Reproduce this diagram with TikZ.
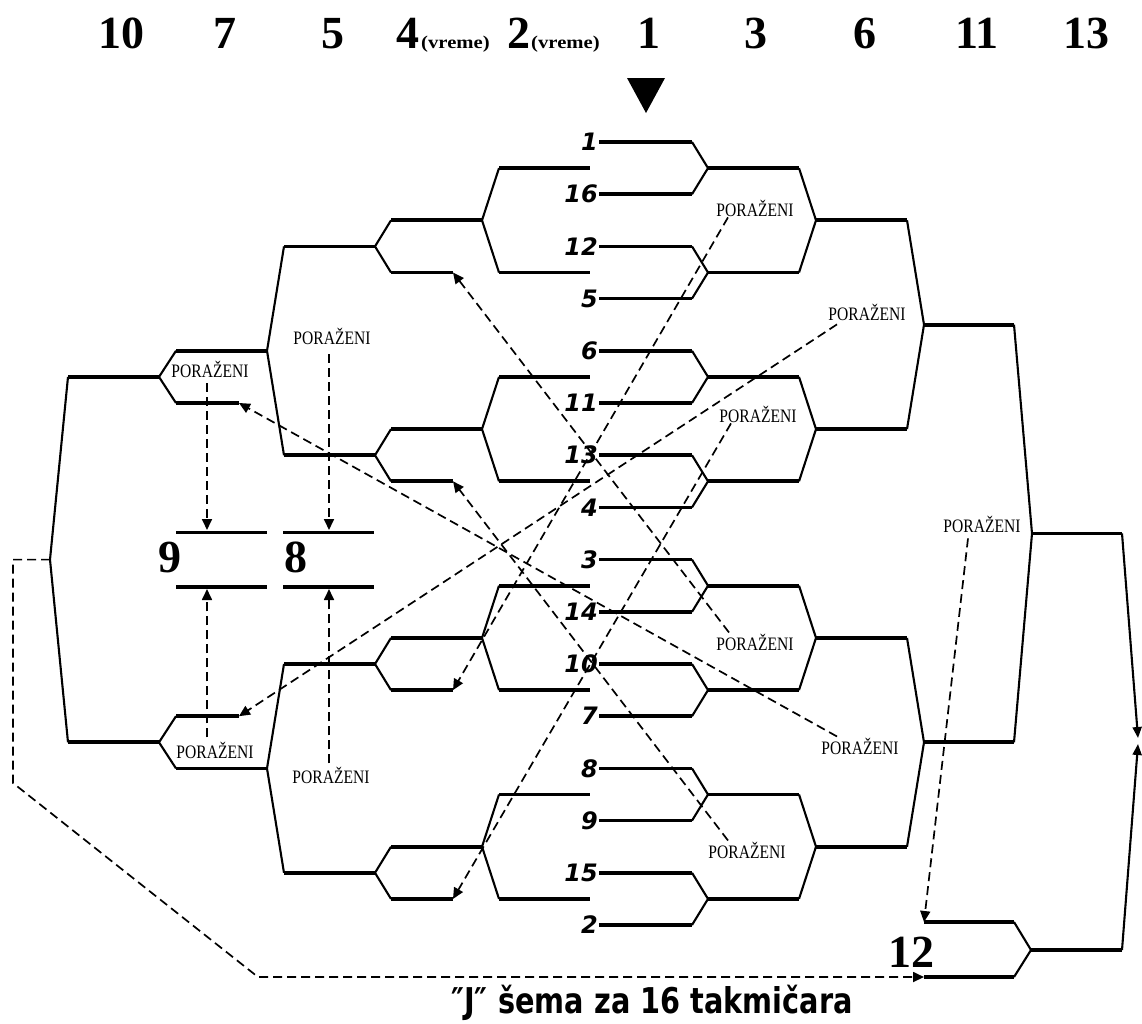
\documentclass[tikz,border=0pt]{standalone}
\usepackage{fontspec}
\setmainfont{Liberation Serif}
\newfontfamily\seedfont{DejaVu Sans}
\newfontfamily\lostfont[FakeStretch=0.82]{Liberation Serif}
\newfontfamily\vremefont[FakeStretch=1.15]{Liberation Serif}
\newfontfamily\titlefont[FakeStretch=0.81]{DejaVu Sans}
\usetikzlibrary{arrows.meta}
\tikzset{win/.style={line width=3.7pt},
 fork/.style={line width=2.1pt},
 lost/.style={line width=1.7pt, dash pattern=on 9pt off 5pt,
   -{Triangle[length=11pt,width=10pt]}},
 seed/.style={anchor=east, inner sep=1pt,
   font=\seedfont\bfseries\itshape\fontsize{24}{24}\selectfont},
 place/.style={anchor=base, inner sep=0pt,
   font=\bfseries\fontsize{46}{46}\selectfont},
 vreme/.style={anchor=base west, inner sep=0pt,
   font=\vremefont\bfseries\fontsize{18}{18}\selectfont},
 loser/.style={anchor=base, inner sep=1pt,
   font=\lostfont\fontsize{19}{19}\selectfont},
 }

\begin{document}
\begin{tikzpicture}[x=1pt,y=-1pt]
    \useasboundingbox (0,0) rectangle (1142,1023);
    % order of the rounds
    \node[place] (h10) at (121,48) {10};
    \node[place] (h7) at (225,48) {7};
    \node[place] (h5) at (333,48) {5};
    \node[place] (h4) at (408,48) {4};
    \node[vreme] (v4) at (421,48) {(vreme)};
    \node[place] (h2) at (519,48) {2};
    \node[vreme] (v2) at (531,48) {(vreme)};
    \node[place] (h1) at (649,48) {1};
    \node[place] (h3) at (756,48) {3};
    \node[place] (h6) at (865,48) {6};
    \node[place] (h11) at (977,48) {11};
    \node[place] (h13) at (1086,48) {13};
    \fill (627,78) -- (665,78) -- (646,113) -- cycle;
    % seeds
    \foreach \n [count=\k from 0] in {1,16,12,5,6,11,13,4,3,14,10,7,8,9,15,2} {
        \node[seed] (s\n) at (599,{142+52.2*\k}) {\n};
        \draw[win] (s\n.east) -- (692,{142+52.2*\k});
    }
    \foreach \j in {0,...,7} {
        \pgfmathsetmacro\ym{168.1+104.4*\j}
        \draw[fork] (692,\ym-26.1) -- (708,\ym) -- (692,\ym+26.1);
        \draw[win] (708,\ym) -- (799,\ym);
        \draw[win] (499,\ym) -- (590,\ym);
    }
    % second round, both sides
    \foreach \i in {0,...,3} {
        \pgfmathsetmacro\ya{168.1+208.8*\i}
        \draw[fork] (799,\ya) -- (816,\ya+52.2) -- (799,\ya+104.4);
        \draw[win] (816,\ya+52.2) -- (907,\ya+52.2);
        \draw[fork] (499,\ya) -- (482,\ya+52.2) -- (499,\ya+104.4);
        \draw[win] (482,\ya+52.2) -- (391,\ya+52.2);
        \coordinate (b\i) at (453,\ya+104.4);
        \draw[win] (391,\ya+104.4) -- (b\i);
        \draw[fork] (391,\ya+52.2) -- (375,\ya+78.3) -- (391,\ya+104.4);
        \draw[win] (375,\ya+78.3) -- (284,\ya+78.3);
    }
    \foreach \l in {0,1} {
        \pgfmathsetmacro\yb{220.3+417.6*\l}
        \draw[fork] (907,\yb) -- (924,\yb+104.4) -- (907,\yb+208.8);
        \draw[win] (924,\yb+104.4) -- (1014,\yb+104.4);
        \draw[fork] (284,\yb+26.1) -- (267,\yb+130.5) -- (284,\yb+234.9);
        \draw[win] (267,\yb+130.5) -- (176,\yb+130.5);
    }
    \draw[fork] (1014,324.7) -- (1032,533.5) -- (1014,742.3);
    \draw[win] (1032,533.5) -- (1122,533.5);
    % left side
    \coordinate (c4a) at (239,403);
    \coordinate (c4b) at (239,716.2);
    \draw[fork] (176,350.8) -- (159,376.9) -- (176,403);
    \draw[win] (176,403) -- (c4a);
    \draw[win] (159,376.9) -- (68,376.9);
    \draw[fork] (176,716.2) -- (159,742.3) -- (176,768.4);
    \draw[win] (176,716.2) -- (c4b);
    \draw[win] (159,742.3) -- (68,742.3);
    \coordinate (lw) at (50,559.6);
    \draw[fork] (68,376.9) -- (lw) -- (68,742.3);
    % places 9 and 8
    \foreach \x in {176,283} {
        \draw[win] (\x,532.5) -- ++(91,0);
        \draw[win] (\x,586.7) -- ++(91,0);
    }
    \coordinate (t9) at (207,530);
    \coordinate (u9) at (207,589);
    \coordinate (t8) at (329,530);
    \coordinate (u8) at (329,589);
    \node[place] (p9) at (170,572) {9};
    \node[place] (p8) at (296,572) {8};
    % place 12 and the final
    \coordinate (t12) at (924,922);
    \coordinate (u12) at (924,977);
    \draw[win] (t12) -- (1014,922);
    \draw[win] (u12) -- (1014,977);
    \draw[fork] (1014,922) -- (1031,950) -- (1014,977);
    \draw[win] (1031,950) -- (1122,950);
    \node[place] (p12) at (911,967) {12};
    \coordinate (fin) at (1138,741);
    \draw[fork,-{Triangle[length=11pt,width=9pt]}] (1122,533.5) -- ([yshift=3pt]fin);
    \draw[fork,-{Triangle[length=11pt,width=9pt]}] (1122,950) -- ([yshift=-3pt]fin);
    % losers
    \node[loser] (lA) at (755,216) {PORAŽENI};
    \node[loser] (lB) at (758,422) {PORAŽENI};
    \node[loser] (lC) at (755,650) {PORAŽENI};
    \node[loser] (lD) at (747,858) {PORAŽENI};
    \node[loser] (lE) at (867,320) {PORAŽENI};
    \node[loser] (lF) at (860,754) {PORAŽENI};
    \node[loser] (lG) at (982,532) {PORAŽENI};
    \node[loser] (lH) at (210,377) {PORAŽENI};
    \node[loser] (lI) at (332,344) {PORAŽENI};
    \node[loser] (lJ) at (215,758) {PORAŽENI};
    \node[loser] (lK) at (331,783) {PORAŽENI};
    \draw[lost] ([xshift=-27pt]lA.south) -- (b2);
    \draw[lost] ([xshift=-27pt]lB.south) -- (b3);
    \draw[lost] ([xshift=-26pt]lC.north) -- (b0);
    \draw[lost] ([xshift=-19pt]lD.north) -- (b1);
    \draw[lost] ([xshift=-30pt,yshift=-3pt]lE.south) -- (c4b);
    \draw[lost] ([xshift=-23pt]lF.north) -- (c4a);
    \draw[lost] ([xshift=-14pt,yshift=-5pt]lG.south) -- (t12);
    \draw[lost] ([xshift=-3pt,yshift=-5pt]lH.south) -- (t9);
    \draw[lost] ([xshift=-3pt,yshift=-9pt]lI.south) -- (t8);
    \draw[lost] ([xshift=-8pt,yshift=3pt]lJ.north) -- (u9);
    \draw[lost] ([xshift=-2pt,yshift=2pt]lK.north) -- (u8);
    \draw[lost] (lw) -- (13,559.6) -- (13,783) -- (258,977) -- (u12);
    \node[anchor=base, font=\titlefont\bfseries\fontsize{35.5}{35.5}\selectfont]
        (title) at (652,1013) {″J″\hspace{0.3em}šema za 16 takmičara};
\end{tikzpicture}
\end{document}
